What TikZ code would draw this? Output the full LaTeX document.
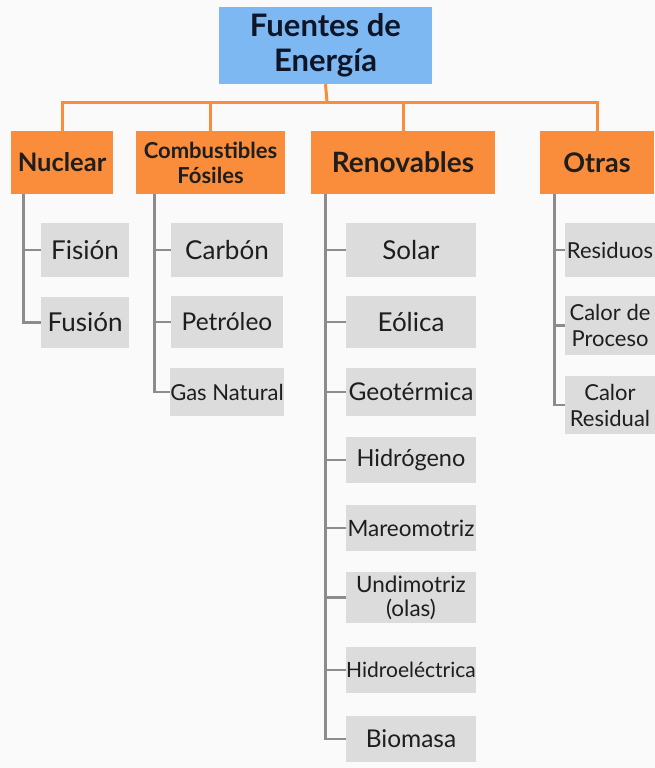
\documentclass[tikz,border=0pt]{standalone}
\usepackage{fontspec}
\setmainfont{Lato}
\definecolor{bgc}{HTML}{FAFAFA}
\definecolor{topblue}{HTML}{7DB8F2}
\definecolor{catorange}{HTML}{F98D3B}
\definecolor{leafgrey}{HTML}{DCDCDC}
\definecolor{linegrey}{HTML}{8C8C8C}
\definecolor{ink}{HTML}{1E1E1E}
\definecolor{titleink}{HTML}{0E1526}
\tikzset{
  box/.style={rectangle, inner sep=0pt, align=center, text=ink},
  rootbox/.style={box, fill=topblue, text=titleink, font=\bfseries\fontsize{31}{35}\selectfont},
  catbox/.style={box, fill=catorange, minimum height=63pt, font=\bfseries\fontsize{26}{30}\selectfont},
  leafbox/.style={box, fill=leafgrey, font=\fontsize{24.5}{28}\selectfont},
  bigleaf/.style={leafbox, font=\fontsize{26}{30}\selectfont},
  oline/.style={draw=catorange, line width=3pt},
  gline/.style={draw=linegrey, line width=2.6pt},
}
\begin{document}
\begin{tikzpicture}[x=1pt,y=-1pt]
\fill[bgc] (0,0) rectangle (655,768);
\useasboundingbox (0,0) rectangle (655,768);

% root
\node[rootbox, minimum width=213pt, minimum height=77pt] (root) at (325.5,45.5) {Fuentes de\\Energía};

% categories
\node[catbox, minimum width=102pt, font=\bfseries\fontsize{25.5}{30}\selectfont] (nuc) at (62,162.5) {Nuclear};
\node[catbox, minimum width=149pt, font=\bfseries\fontsize{22}{25}\selectfont] (fos) at (210.5,162.5) {Combustibles\\Fósiles};
\node[catbox, minimum width=184pt, font=\bfseries\fontsize{28}{30}\selectfont] (ren) at (403,162.5) {Renovables};
\node[catbox, minimum width=114pt, font=\bfseries\fontsize{27}{30}\selectfont] (otr) at (597,162.5) {Otras};

% orange bus
\coordinate (bus) at (327,102);
\draw[oline] (root.south) -- (bus);
\draw[oline, line cap=rect] (bus) -| (nuc.north);
\draw[oline] (bus) -| (fos.north);
\draw[oline] (bus) -| (ren.north);
\draw[oline, line cap=rect] (bus) -| (otr.north);

% nuclear leaves
\node[bigleaf, minimum width=88pt, minimum height=54pt] (fision) at (85,250) {Fisión};
\node[bigleaf, minimum width=88pt, minimum height=51pt] (fusion) at (85,322.5) {Fusión};

% fossil leaves
\node[bigleaf, minimum width=112pt, minimum height=54pt] (carbon) at (227,250) {Carbón};
\node[leafbox, minimum width=112pt, minimum height=52pt] (petroleo) at (227,322) {Petróleo};
\node[leafbox, minimum width=112pt, minimum height=48pt, font=\fontsize{22}{25}\selectfont] (gas) at (227,392) {Gas Natural};

% renewable leaves
\node[bigleaf, minimum width=130pt, minimum height=54pt] (solar) at (411,250) {Solar};
\node[bigleaf, minimum width=130pt, minimum height=52pt] (eolica) at (411,322) {Eólica};
\node[leafbox, minimum width=130pt, minimum height=48pt] (geo) at (411,392) {Geotérmica};
\node[leafbox, minimum width=130pt, minimum height=46pt, font=\fontsize{23.5}{28}\selectfont] (hidrog) at (411,460) {Hidrógeno};
\node[leafbox, minimum width=130pt, minimum height=46pt, font=\fontsize{22.5}{25}\selectfont] (mareo) at (411,528) {Mareomotriz};
\node[leafbox, minimum width=130pt, minimum height=51pt, font=\fontsize{22.5}{24}\selectfont] (undi) at (411,597.5) {Undimotriz\\(olas)};
\node[leafbox, minimum width=130pt, minimum height=46pt, font=\fontsize{21}{24}\selectfont] (hidroel) at (411,670) {Hidroeléctrica};
\node[leafbox, minimum width=130pt, minimum height=46pt] (biomasa) at (411,739) {Biomasa};

% other leaves
\node[leafbox, minimum width=90pt, minimum height=54pt, font=\fontsize{22}{25}\selectfont] (resid) at (610,250) {Residuos};
\node[leafbox, minimum width=90pt, minimum height=59pt, font=\fontsize{22}{26}\selectfont] (cproc) at (610,325.5) {Calor de\\Proceso};
\node[leafbox, minimum width=90pt, minimum height=58pt, font=\fontsize{22}{26}\selectfont] (cresid) at (610,405) {Calor\\Residual};

% grey trunks
\coordinate (nt) at (23.5,194);
\coordinate (ft) at (154.5,194);
\coordinate (rt) at (325.5,194);
\coordinate (ot) at (554.5,194);

\draw[gline] (nt) |- (fision.west);
\draw[gline] (nt) |- (fusion.west);
\draw[gline] (ft) |- (carbon.west);
\draw[gline] (ft) |- (petroleo.west);
\draw[gline] (ft) |- (gas.west);
\foreach \n in {solar,eolica,geo,hidrog,mareo,undi,hidroel,biomasa}
  \draw[gline] (rt) |- (\n.west);
\draw[gline] (ot) |- (resid.west);
\draw[gline] (ot) |- (cproc.west);
\draw[gline] (ot) |- (cresid.west);
\end{tikzpicture}
\end{document}
